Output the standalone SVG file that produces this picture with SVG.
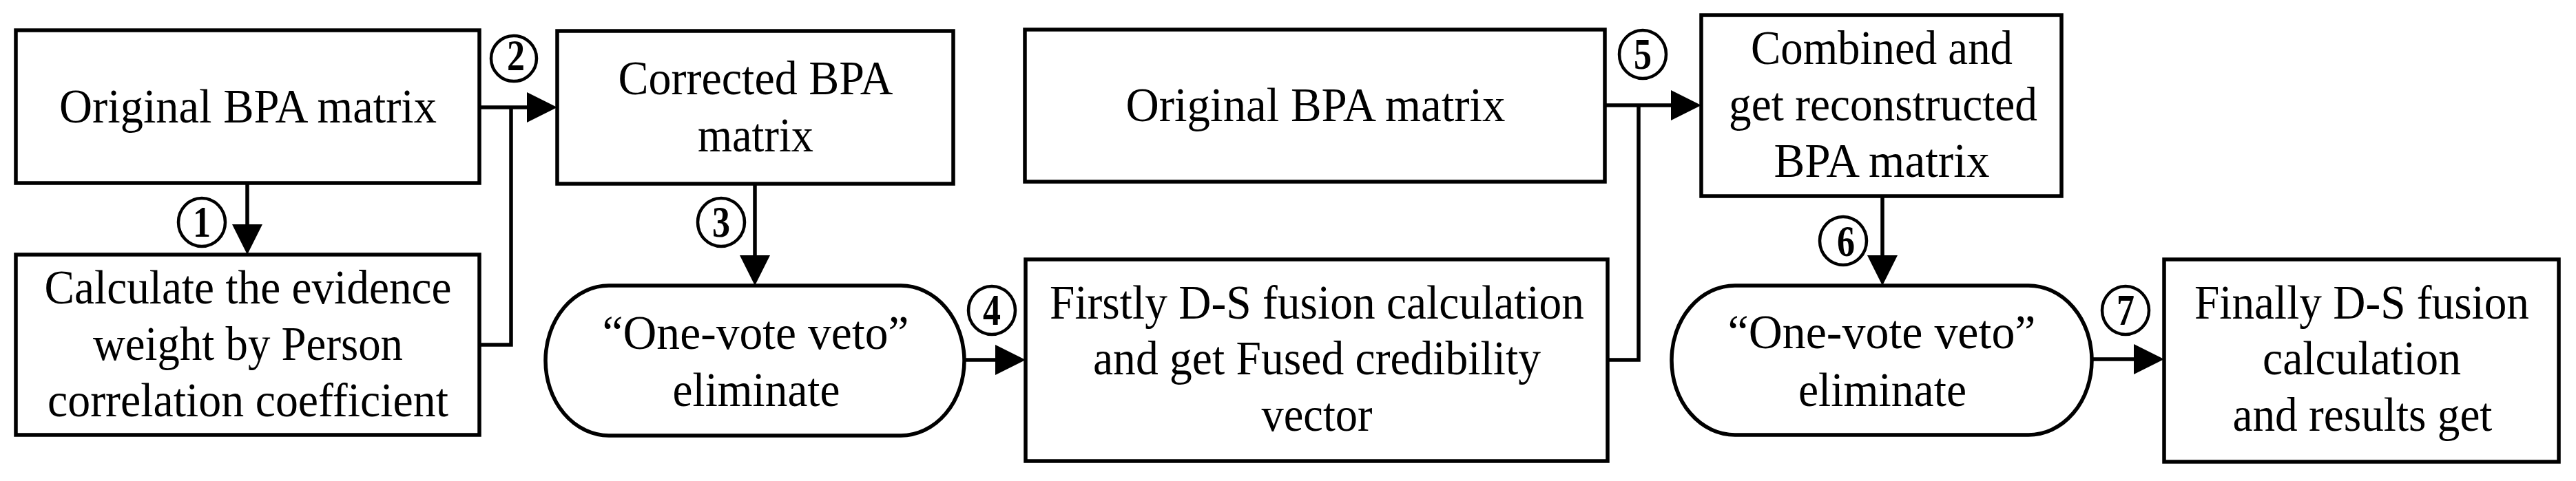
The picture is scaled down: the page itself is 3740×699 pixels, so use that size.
<svg xmlns="http://www.w3.org/2000/svg" width="3740" height="699" viewBox="0 0 3740 699">
<defs>
<style>
.box{fill:#fff;stroke:#000;stroke-width:5.5}
.num{fill:#fff;stroke:#000;stroke-width:4.5}
.t{font-family:"Liberation Serif","Times New Roman",serif;font-size:70px;text-anchor:middle;fill:#000}
.d{font-family:"Liberation Serif","Times New Roman",serif;font-size:63px;font-weight:bold;text-anchor:middle;fill:#000}
.c{fill:none;stroke:#000;stroke-width:5.5}
</style>
<marker id="ah" markerUnits="userSpaceOnUse" markerWidth="46" markerHeight="46" refX="4" refY="22" orient="auto">
<path d="M0,0 L44,22 L0,44 Z" fill="#000"/>
</marker>
</defs>
<rect width="3740" height="699" fill="#fff"/>

<g id="connectors">
<line class="c" x1="359" y1="266" x2="359" y2="330" marker-end="url(#ah)"/>
<line class="c" x1="696" y1="156" x2="769" y2="156" marker-end="url(#ah)"/>
<polyline class="c" points="696,501 742,501 742,156"/>
<line class="c" x1="1096" y1="267" x2="1096" y2="375" marker-end="url(#ah)"/>
<line class="c" x1="1400" y1="523" x2="1449" y2="523" marker-end="url(#ah)"/>
<line class="c" x1="2330" y1="153" x2="2430" y2="153" marker-end="url(#ah)"/>
<polyline class="c" points="2334,523 2379,523 2379,153"/>
<line class="c" x1="2733" y1="285" x2="2733" y2="375" marker-end="url(#ah)"/>
<line class="c" x1="3037" y1="522" x2="3102" y2="522" marker-end="url(#ah)"/>
</g>

<g id="labels">
<g id="n1"><ellipse class="num" cx="293" cy="323" rx="34" ry="35"/><text class="d" x="293" y="344" textLength="26" lengthAdjust="spacingAndGlyphs">1</text></g>
<g id="n2"><ellipse class="num" cx="746" cy="85" rx="33" ry="33"/><text class="d" x="749" y="102" textLength="26" lengthAdjust="spacingAndGlyphs">2</text></g>
<g id="n3"><ellipse class="num" cx="1047" cy="323" rx="34" ry="35"/><text class="d" x="1047" y="344" textLength="26" lengthAdjust="spacingAndGlyphs">3</text></g>
<g id="n4"><ellipse class="num" cx="1440" cy="451" rx="34" ry="35"/><text class="d" x="1440" y="472" textLength="26" lengthAdjust="spacingAndGlyphs">4</text></g>
<g id="n5"><ellipse class="num" cx="2385" cy="79" rx="34" ry="35"/><text class="d" x="2385" y="100" textLength="26" lengthAdjust="spacingAndGlyphs">5</text></g>
<g id="n6"><ellipse class="num" cx="2676" cy="350" rx="34" ry="35"/><text class="d" x="2680" y="372" textLength="26" lengthAdjust="spacingAndGlyphs">6</text></g>
<g id="n7"><ellipse class="num" cx="3086" cy="451" rx="34" ry="35"/><text class="d" x="3086" y="472" textLength="26" lengthAdjust="spacingAndGlyphs">7</text></g>
</g>

<g id="nodeA">
<rect class="box" x="23" y="44" width="673" height="222"/>
<text class="t" x="360" y="178" textLength="548" lengthAdjust="spacingAndGlyphs">Original BPA matrix</text>
</g>

<g id="nodeB">
<rect class="box" x="23" y="370" width="673" height="262"/>
<text class="t" x="360" y="441" textLength="591" lengthAdjust="spacingAndGlyphs">Calculate the evidence</text>
<text class="t" x="360" y="523" textLength="450" lengthAdjust="spacingAndGlyphs">weight by Person</text>
<text class="t" x="360" y="605" textLength="582" lengthAdjust="spacingAndGlyphs">correlation coefficient</text>
</g>

<g id="nodeC">
<rect class="box" x="809" y="45" width="575" height="222"/>
<text class="t" x="1097" y="137" textLength="399" lengthAdjust="spacingAndGlyphs">Corrected BPA</text>
<text class="t" x="1097" y="220" textLength="168" lengthAdjust="spacingAndGlyphs">matrix</text>
</g>

<g id="veto1">
<rect class="box" x="792" y="415" width="608" height="218" rx="92" ry="109"/>
<text class="t" x="1097" y="507" textLength="445" lengthAdjust="spacingAndGlyphs">“One-vote veto”</text>
<text class="t" x="1098" y="590" textLength="243" lengthAdjust="spacingAndGlyphs">eliminate</text>
</g>

<g id="nodeD">
<rect class="box" x="1489" y="377" width="845" height="293"/>
<text class="t" x="1912" y="463" textLength="776" lengthAdjust="spacingAndGlyphs">Firstly D-S fusion calculation</text>
<text class="t" x="1912" y="544" textLength="650" lengthAdjust="spacingAndGlyphs">and get Fused credibility</text>
<text class="t" x="1912" y="626" textLength="161" lengthAdjust="spacingAndGlyphs">vector</text>
</g>

<g id="nodeE">
<rect class="box" x="1488" y="43" width="842" height="221"/>
<text class="t" x="1910" y="176" textLength="551" lengthAdjust="spacingAndGlyphs">Original BPA matrix</text>
</g>

<g id="nodeF">
<rect class="box" x="2470" y="22" width="523" height="263"/>
<text class="t" x="2732" y="93" textLength="380" lengthAdjust="spacingAndGlyphs">Combined and</text>
<text class="t" x="2734" y="175" textLength="448" lengthAdjust="spacingAndGlyphs">get reconstructed</text>
<text class="t" x="2732" y="257" textLength="313" lengthAdjust="spacingAndGlyphs">BPA matrix</text>
</g>

<g id="veto2">
<rect class="box" x="2427" y="415" width="610" height="217" rx="92" ry="108"/>
<text class="t" x="2732" y="506" textLength="447" lengthAdjust="spacingAndGlyphs">“One-vote veto”</text>
<text class="t" x="2733" y="590" textLength="244" lengthAdjust="spacingAndGlyphs">eliminate</text>
</g>

<g id="nodeG">
<rect class="box" x="3142" y="377" width="573" height="294"/>
<text class="t" x="3429" y="463" textLength="486" lengthAdjust="spacingAndGlyphs">Finally D-S fusion</text>
<text class="t" x="3429" y="544" textLength="288" lengthAdjust="spacingAndGlyphs">calculation</text>
<text class="t" x="3430" y="626" textLength="377" lengthAdjust="spacingAndGlyphs">and results get</text>
</g>
</svg>
